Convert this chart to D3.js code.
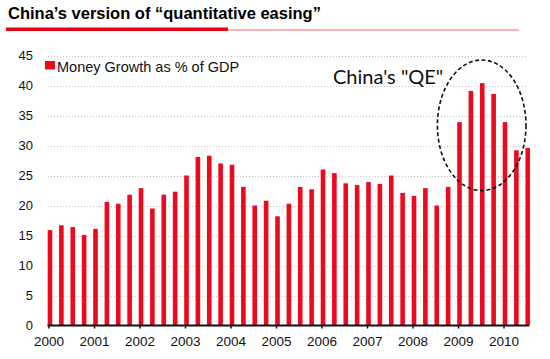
<!DOCTYPE html>
<html>
<head>
<meta charset="utf-8">
<script src="https://cdn.jsdelivr.net/npm/d3@7"></script>
<style>
html,body{margin:0;padding:0;background:#fff;}
svg{display:block;}
</style>
</head>
<body>
<svg id="chart" width="550" height="359"></svg>
<script>
const years = [2000,2001,2002,2003,2004,2005,2006,2007,2008,2009,2010];
const quarters = ["Q1","Q2","Q3","Q4"];
const values2000 = [15.9,16.7,16.4,15.1];
const values2001 = [16.1,20.6,20.3,21.8];
const values2002 = [22.9,19.5,21.8,22.3];
const values2003 = [25.0,28.1,28.3,27.0];
const values2004 = [26.8,23.1,20.0,20.8];
const values2005 = [18.2,20.3,23.1,22.7];
const values2006 = [26.0,25.4,23.7,23.4];
const values2007 = [23.9,23.6,25.0,22.1];
const values2008 = [21.6,22.9,20.0,23.1];
const values2009 = [33.9,39.1,40.4,38.6];
const values2010 = [33.9,29.2,29.6];
const yTicks = [0,5,10,15,20,25,30,35,40,45];
const seriesName = "Money Growth as % of GDP";
const titleText = "China\u2019s version of \u201cquantitative easing\u201d";
const annotationText = "China's \"QE\"";

const allValues = [values2000,values2001,values2002,values2003,values2004,values2005,
  values2006,values2007,values2008,values2009,values2010];
const data = [];
allValues.forEach((arr,yi)=>arr.forEach((v,qi)=>data.push({year:years[yi],q:qi,t:years[yi]+qi/4,v})));

const svg = d3.select("#chart");
const red = "#ec0a1f";

const x = d3.scaleLinear().domain([2000, 2000 + 43/4]).range([48.5, 48.5 + 43*11.375]);
const y = d3.scaleLinear().domain([0,45]).range([325.5, 55.5]);

// title
svg.append("text").attr("x",8).attr("y",19)
  .attr("font-family","Liberation Sans, Arial, sans-serif").attr("font-weight","bold")
  .attr("font-size",16.5).attr("fill","#000").text(titleText);
svg.append("line").attr("x1",6).attr("x2",228).attr("y1",29.3).attr("y2",29.3)
  .attr("stroke","#e30613").attr("stroke-width",3.5);
svg.append("line").attr("x1",228).attr("x2",519).attr("y1",30).attr("y2",30)
  .attr("stroke","#ea6a72").attr("stroke-width",1);

// grid
svg.append("g").selectAll("line").data(yTicks.filter(d=>d>0)).join("line")
  .attr("x1",48).attr("x2",527).attr("y1",d=>Math.round(y(d))+0.5).attr("y2",d=>Math.round(y(d))+0.5)
  .attr("stroke","#c4c4c4").attr("stroke-width",1).attr("stroke-dasharray","1,2");

// y labels
svg.append("g").selectAll("text").data(yTicks).join("text")
  .attr("x",33).attr("y",d=>y(d)).attr("dy","0.36em").attr("text-anchor","end")
  .attr("font-family","Liberation Sans, Arial, sans-serif").attr("font-size",13).attr("fill","#111")
  .text(d=>d);

// bars
const bw = 4.6;
svg.append("g").selectAll("rect").data(data).join("rect")
  .attr("x",d=>x(d.t)+1.5-bw/2).attr("width",bw)
  .attr("y",d=>y(d.v)).attr("height",d=>y(0)-y(d.v))
  .attr("fill",red);

// x axis
const xAxis = d3.axisBottom(x).tickValues(years).tickSize(3).tickSizeOuter(0).tickFormat(d3.format("d"));
const gx = svg.append("g").attr("transform",`translate(0,${y(0)})`).call(xAxis);
gx.select(".domain").attr("stroke","#111").attr("stroke-width",2).attr("d",`M${x(2000)-1},0H529`);
gx.selectAll(".tick line").attr("stroke","#111").attr("stroke-width",1.5);
gx.selectAll(".tick text").attr("font-family","Liberation Sans, Arial, sans-serif")
  .attr("font-size",13.5).attr("fill","#111").attr("dy","1.05em");

// legend
svg.append("rect").attr("x",45).attr("y",61).attr("width",10).attr("height",8.5).attr("fill",red);
svg.append("text").attr("x",57).attr("y",72)
  .attr("font-family","Liberation Sans, Arial, sans-serif").attr("font-size",14.5).attr("fill","#111")
  .text(seriesName);

// annotation
svg.append("text").attr("x",333).attr("y",84)
  .attr("font-family","Lato, sans-serif").attr("font-size",20).attr("fill","#111")
  .text(annotationText);
svg.append("ellipse").attr("cx",481.7).attr("cy",125.3).attr("rx",44.3).attr("ry",65.3)
  .attr("fill","none").attr("stroke","#111").attr("stroke-width",1.6).attr("stroke-dasharray","4,2.5");
</script>
</body>
</html>
